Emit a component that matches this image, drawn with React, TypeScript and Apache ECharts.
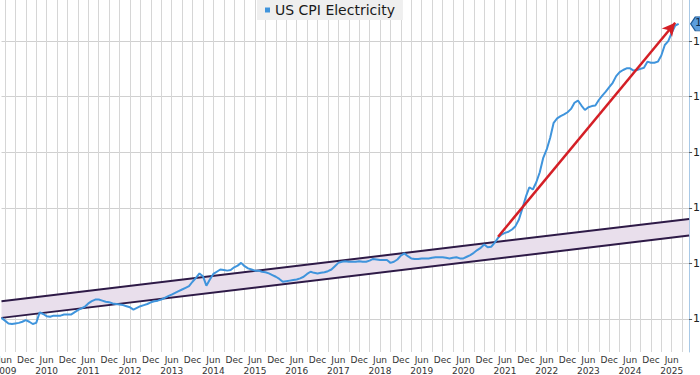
import React, { useEffect, useRef } from "react";
import * as echarts from "echarts";

// ---- data ----
const seriesName = "US CPI Electricity";
const cpi2009 = [100.2, 99.7, 99.2, 99.1, 99.2, 99.3, 99.5, 99.8]; // May-Dec
const cpi2010 = [99.5, 99.1, 99.3, 101.2, 100.9, 100.5, 100.4, 100.6, 100.6, 100.6, 100.8, 100.8];
const cpi2011 = [100.8, 101.2, 101.6, 101.9, 102.2, 102.8, 103.2, 103.5, 103.5, 103.3, 103.1, 103.0];
const cpi2012 = [102.8, 102.7, 102.6, 102.5, 102.3, 102.1, 101.7, 102.0, 102.3, 102.5, 102.7, 103.0];
const cpi2013 = [103.2, 103.3, 103.5, 103.8, 104.1, 104.4, 104.7, 105.0, 105.3, 105.6, 105.9, 106.7];
const cpi2014 = [107.4, 108.2, 107.7, 106.0, 107.1, 108.1, 108.5, 108.9, 108.8, 108.7, 108.8, 109.3];
const cpi2015 = [109.6, 110.1, 109.5, 109.1, 108.9, 108.7, 108.7, 108.5, 108.4, 108.2, 107.9, 107.6];
const cpi2016 = [107.2, 106.7, 106.8, 106.9, 107.0, 107.1, 107.3, 107.6, 108.1, 108.5, 108.3, 108.2];
const cpi2017 = [108.3, 108.4, 108.6, 108.9, 109.5, 110.1, 110.3, 110.4, 110.3, 110.3, 110.3, 110.4];
const cpi2018 = [110.3, 110.3, 110.5, 110.8, 110.7, 110.6, 110.6, 110.6, 110.1, 110.3, 110.7, 111.4];
const cpi2019 = [111.8, 111.3, 110.9, 110.8, 110.8, 110.9, 110.9, 110.9, 111.0, 111.1, 111.1, 111.1];
const cpi2020 = [111.0, 110.9, 111.0, 111.1, 110.9, 110.9, 111.2, 111.5, 111.9, 112.4, 112.8, 113.4];
const cpi2021 = [112.9, 113.0, 113.7, 114.6, 115.2, 115.5, 115.7, 116.1, 116.7, 117.9, 119.9, 122.0];
const cpi2022 = [123.7, 123.3, 124.6, 126.4, 129.0, 130.5, 132.6, 135.3, 136.1, 136.5, 136.8, 137.2];
const cpi2023 = [137.8, 138.9, 139.3, 138.4, 137.6, 138.1, 138.3, 138.4, 139.4, 140.2, 140.9, 141.7];
const cpi2024 = [142.5, 143.7, 144.4, 144.8, 145.1, 145.1, 144.7, 144.8, 145.0, 145.2, 146.3, 146.1];
const cpi2025 = [146.1, 146.3, 147.4, 149.3, 150.0, 151.5, 152.8, 153.1]; // Jan-Aug

// channel (lower line endpoints, and band width)
const channelStart = "2009-05";
const channelEnd = "2025-11";
const channelLower = [100.2, 115.0];
const channelWidth = [3.0, 3.0];

// red arrow endpoints
const arrowFrom = { month: "2021-04", value: 114.8 };
const arrowTo = { month: "2025-07", value: 153.3 };

// axis range
const firstMonth = { year: 2009, month: 5 };
const lastMonth = { year: 2025, month: 11 };
const yMin = 94.06;
const yMax = 157.39;

const monthNames = ["Jan", "Feb", "Mar", "Apr", "May", "Jun", "Jul", "Aug", "Sep", "Oct", "Nov", "Dec"];

function buildCategories(): string[] {
  const out: string[] = [];
  let y = firstMonth.year;
  let m = firstMonth.month;
  while (y < lastMonth.year || (y === lastMonth.year && m <= lastMonth.month)) {
    out.push(`${y}-${String(m).padStart(2, "0")}`);
    m++;
    if (m > 12) {
      m = 1;
      y++;
    }
  }
  return out;
}

export default function App() {
  const ref = useRef<HTMLDivElement>(null);

  useEffect(() => {
    if (!ref.current) return;
    const chart = echarts.init(ref.current, undefined, { renderer: "svg" });
    const categories = buildCategories();
    const cpi = [
      ...cpi2009, ...cpi2010, ...cpi2011, ...cpi2012, ...cpi2013, ...cpi2014, ...cpi2015, ...cpi2016,
      ...cpi2017, ...cpi2018, ...cpi2019, ...cpi2020, ...cpi2021, ...cpi2022, ...cpi2023, ...cpi2024, ...cpi2025,
    ];
    const lastIdx = cpi.length - 1;
    const lastCat = categories[lastIdx];
    const lastVal = cpi[lastIdx];

    const monthOf = (c: string) => parseInt(c.slice(5), 10);
    const font = "DejaVu Sans";

    chart.setOption({
      animation: false,
      backgroundColor: "#ffffff",
      grid: {
        left: 1.5,
        right: 10.9,
        top: 0,
        bottom: 23,
        containLabel: false,
        outerBoundsMode: "none",
      },
      legend: {
        show: true,
        data: [{ name: seriesName, icon: "rect" }],
        left: 257,
        top: 0,
        itemWidth: 5,
        itemHeight: 5,
        padding: [3, 8, 3, 8],
        backgroundColor: "#efefef",
        textStyle: { fontFamily: font, fontSize: 14, color: "#1a1a1a" },
        selectedMode: false,
      },
      xAxis: {
        type: "category",
        data: categories,
        boundaryGap: false,
        axisLine: { show: false },
        axisTick: { show: false },
        axisLabel: {
          interval: (_i: number, v: string) => monthOf(v) === 6 || monthOf(v) === 12,
          formatter: (v: string) => {
            const mo = monthOf(v);
            return mo === 6 ? `${monthNames[5]}\n${v.slice(0, 4)}` : monthNames[mo - 1];
          },
          fontFamily: font,
          fontSize: 9,
          color: "#333",
          lineHeight: 11,
          margin: 2,
          verticalAlign: "top",
        },
        splitLine: {
          show: true,
          interval: (_i: number, v: string) => monthOf(v) % 3 === 0,
          lineStyle: { color: "#d6d6d6", width: 1 },
        },
      },
      yAxis: {
        type: "value",
        position: "right",
        min: yMin,
        max: yMax,
        splitNumber: 6,
        axisLine: { show: true, lineStyle: { color: "#a9c9e6", width: 1 } },
        axisTick: { show: true, length: 3, lineStyle: { color: "#555" } },
        axisLabel: {
          showMinLabel: false,
          showMaxLabel: false,
          fontFamily: font,
          fontSize: 11,
          color: "#222",
          margin: 4,
          formatter: (v: number) => String(Math.round(v)),
        },
        splitLine: {
          show: true,
          showMinLine: false,
          showMaxLine: false,
          lineStyle: { color: "#d0d0d0", width: 1 },
        },
      },
      series: [
        {
          name: "channelLower",
          type: "line",
          stack: "channel",
          data: [
            [channelStart, channelLower[0]],
            [channelEnd, channelLower[1]],
          ],
          showSymbol: false,
          symbol: "none",
          lineStyle: { color: "#2e1a47", width: 2 },
          silent: true,
          z: 2,
        },
        {
          name: "channelBand",
          type: "line",
          stack: "channel",
          data: [
            [channelStart, channelWidth[0]],
            [channelEnd, channelWidth[1]],
          ],
          showSymbol: false,
          symbol: "none",
          lineStyle: { color: "#2e1a47", width: 2 },
          areaStyle: { color: "#e9dfec", opacity: 1 },
          silent: true,
          z: 2,
        },
        {
          name: seriesName,
          type: "line",
          data: cpi,
          showSymbol: false,
          symbol: "none",
          lineStyle: { color: "#3f94dc", width: 2 },
          itemStyle: { color: "#3f94dc" },
          z: 3,
          markLine: {
            silent: true,
            symbol: ["none", "arrow"],
            symbolSize: [10, 13],
            label: { show: false },
            lineStyle: { color: "#d41f26", width: 2.5, type: "solid" },
            data: [
              [
                { coord: [arrowFrom.month, arrowFrom.value] },
                { coord: [arrowTo.month, arrowTo.value] },
              ],
            ],
          },
          markPoint: {
            silent: true,
            symbol: "path://M0,5 L5,0 L30,0 L30,10 L5,10 Z",
            symbolSize: [28, 14],
            symbolKeepAspect: false,
            itemStyle: { color: "#5b9ede", borderColor: "#1f5a96", borderWidth: 1 },
            label: {
              show: true,
              position: [5, 1],
              fontFamily: font,
              fontSize: 11,
              color: "#0d2a4a",
              formatter: () => lastVal.toFixed(1),
            },
            data: [{ coord: [lastCat, lastVal], symbolOffset: [26, 0] }],
          },
        },
      ],
    });

    return () => chart.dispose();
  }, []);

  return (
    <div
      ref={ref}
      style={{ position: "absolute", left: 0, top: 0, width: 700, height: 375 }}
    />
  );
}
